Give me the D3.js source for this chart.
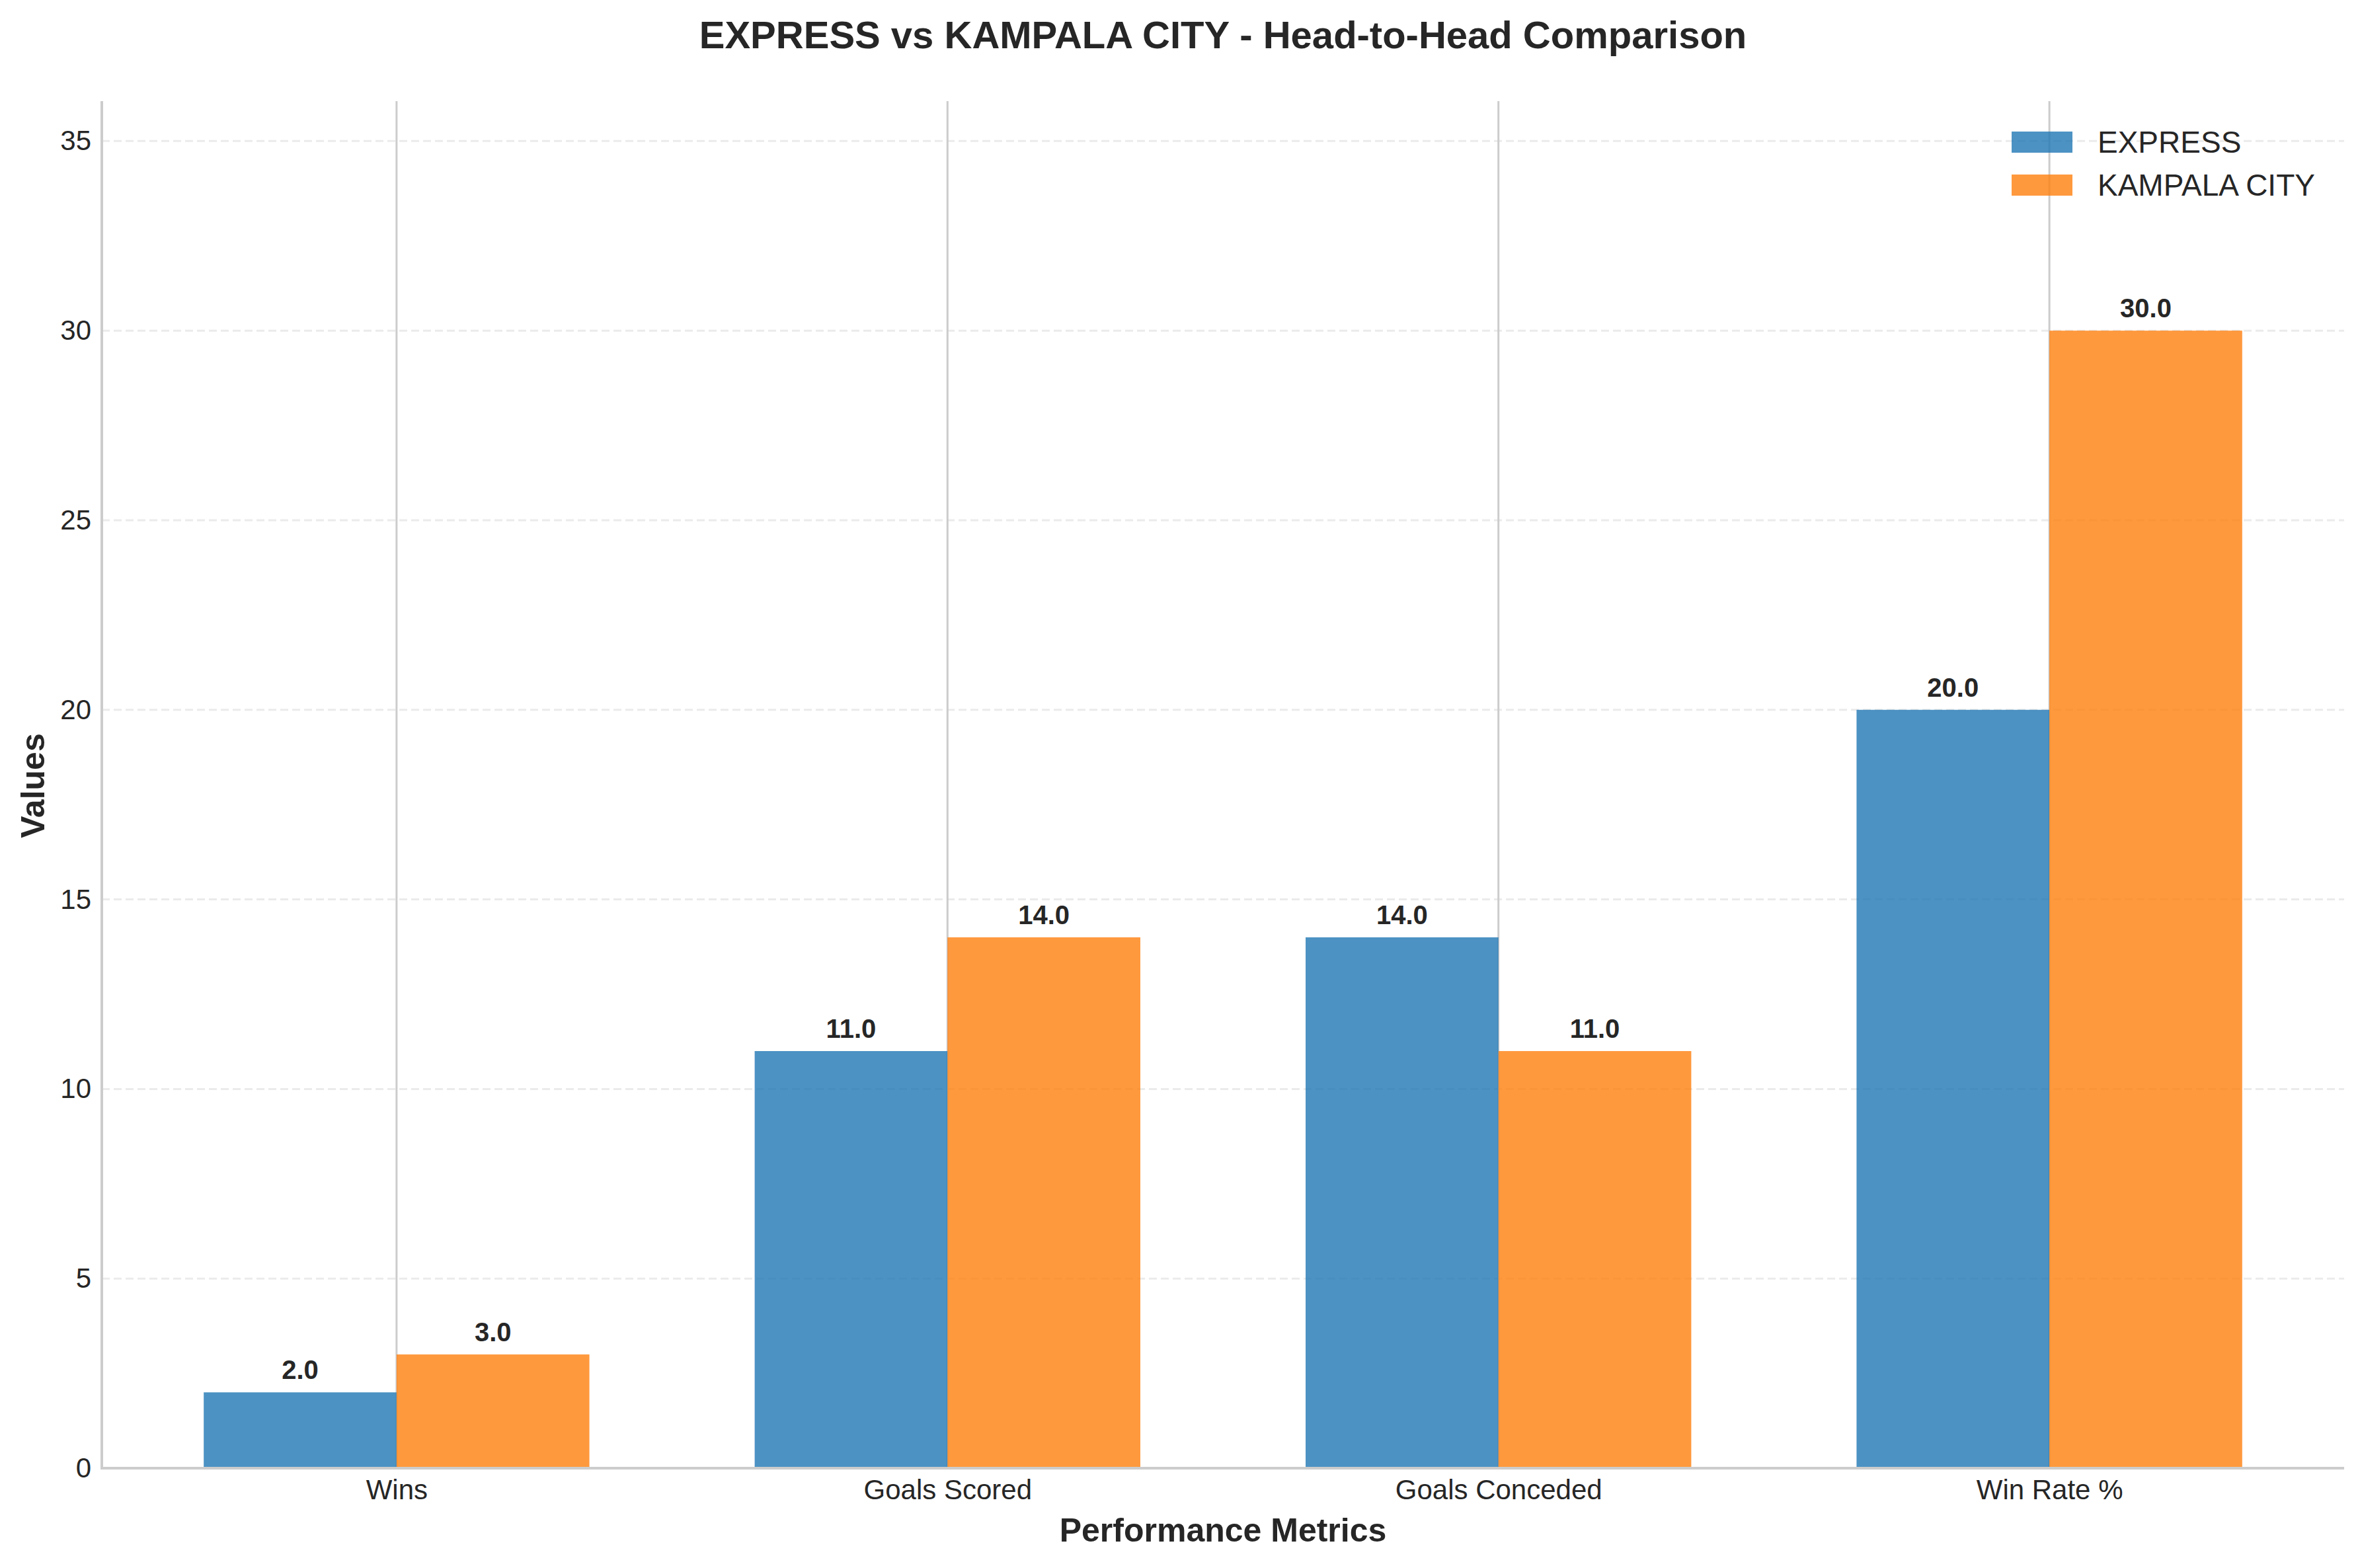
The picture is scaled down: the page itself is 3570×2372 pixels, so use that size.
<!DOCTYPE html>
<html>
<head>
<meta charset="utf-8">
<script src="https://cdn.jsdelivr.net/npm/d3@7"></script>
<style>
  body { margin: 0; background: #fff; }
  svg { display: block; font-family: "Liberation Sans", Arial, sans-serif; }
</style>
</head>
<body>
<div id="app"></div>
<script>
const categories = ["Wins", "Goals Scored", "Goals Conceded", "Win Rate %"];
const teams = ["EXPRESS", "KAMPALA CITY"];
const expressValues = [2, 11, 14, 20];
const kampalaValues = [3, 14, 11, 30];
const yTicks = [0, 5, 10, 15, 20, 25, 30, 35];
const colors = ["#1f77b4", "#ff7f0e"];

const width = 3570,
  height = 2372,
  margin = { top: 156, right: 24, bottom: 151, left: 154 };

const barWidth = 0.35;
const series = [expressValues, kampalaValues];

// numeric x like matplotlib: categories at 0..3, bars offset by half width
const xScale = d3
  .scaleLinear()
  .domain([-0.535, categories.length - 1 + 0.535])
  .range([margin.left, width - margin.right]);

const yScale = d3
  .scaleLinear()
  .domain([0, 36])
  .range([height - margin.bottom, margin.top]);

const svg = d3
  .select("#app")
  .append("svg")
  .attr("width", width)
  .attr("height", height)
  .attr("viewBox", [0, 0, width, height]);

// horizontal dashed grid
svg
  .append("g")
  .attr("class", "y-grid")
  .selectAll("line")
  .data(yTicks.filter((d) => d > 0))
  .join("line")
  .attr("x1", margin.left)
  .attr("x2", width - margin.right)
  .attr("y1", (d) => yScale(d))
  .attr("y2", (d) => yScale(d))
  .attr("stroke", "#ebebeb")
  .attr("stroke-width", 3)
  .attr("stroke-dasharray", "12,6");

// vertical solid grid at category centers
svg
  .append("g")
  .attr("class", "x-grid")
  .selectAll("line")
  .data(categories)
  .join("line")
  .attr("x1", (d, i) => xScale(i))
  .attr("x2", (d, i) => xScale(i))
  .attr("y1", margin.top - 3)
  .attr("y2", height - margin.bottom)
  .attr("stroke", "#cccccc")
  .attr("stroke-width", 3);

// bars
const bars = svg.append("g").attr("class", "bars");
series.forEach((vals, s) => {
  const offset = s === 0 ? -barWidth / 2 : barWidth / 2;
  const g = bars.append("g").attr("fill", colors[s]).attr("fill-opacity", 0.8);
  g.selectAll("rect")
    .data(vals)
    .join("rect")
    .attr("x", (d, i) => xScale(i + offset - barWidth / 2))
    .attr("width", xScale(barWidth) - xScale(0))
    .attr("y", (d) => yScale(d))
    .attr("height", (d) => yScale(0) - yScale(d));

  // value labels
  svg
    .append("g")
    .selectAll("text")
    .data(vals)
    .join("text")
    .attr("x", (d, i) => xScale(i + offset))
    .attr("y", (d) => yScale(d) - 20)
    .attr("text-anchor", "middle")
    .attr("font-size", 40)
    .attr("font-weight", "bold")
    .attr("fill", "#262626")
    .text((d) => d.toFixed(1));
});

// y axis
const yAxis = (g) =>
  g
    .attr("transform", `translate(${margin.left},0)`)
    .call(d3.axisLeft(yScale).tickValues(yTicks).tickSize(0).tickPadding(16))
    .call((g) => g.select(".domain").remove())
    .call((g) =>
      g.selectAll("text").attr("font-size", 42).attr("fill", "#262626").attr("font-family", null)
    );
svg.append("g").call(yAxis);

// x axis
const xAxis = (g) =>
  g
    .attr("transform", `translate(0,${height - margin.bottom})`)
    .call(
      d3
        .axisBottom(xScale)
        .tickValues(d3.range(categories.length))
        .tickFormat((i) => categories[i])
        .tickSize(0)
        .tickPadding(17)
    )
    .call((g) => g.select(".domain").remove())
    .call((g) =>
      g.selectAll("text").attr("font-size", 42).attr("fill", "#262626").attr("font-family", null)
    );
svg.append("g").call(xAxis);

// spines (left + bottom)
svg
  .append("line")
  .attr("x1", margin.left)
  .attr("x2", margin.left)
  .attr("y1", margin.top - 3)
  .attr("y2", height - margin.bottom + 2)
  .attr("stroke", "#cccccc")
  .attr("stroke-width", 4);
svg
  .append("line")
  .attr("x1", margin.left)
  .attr("x2", width - margin.right)
  .attr("y1", height - margin.bottom)
  .attr("y2", height - margin.bottom)
  .attr("stroke", "#cccccc")
  .attr("stroke-width", 4);

// title
svg
  .append("text")
  .attr("x", (margin.left + width - margin.right) / 2)
  .attr("y", 73)
  .attr("text-anchor", "middle")
  .attr("font-size", 58)
  .attr("font-weight", "bold")
  .attr("fill", "#262626")
  .text("EXPRESS vs KAMPALA CITY - Head-to-Head Comparison");

// axis labels
svg
  .append("text")
  .attr("x", (margin.left + width - margin.right) / 2)
  .attr("y", 2332)
  .attr("text-anchor", "middle")
  .attr("font-size", 50)
  .attr("font-weight", "bold")
  .attr("fill", "#262626")
  .text("Performance Metrics");

svg
  .append("text")
  .attr("transform", `translate(67,${(margin.top + height - margin.bottom) / 2}) rotate(-90)`)
  .attr("text-anchor", "middle")
  .attr("font-size", 50)
  .attr("font-weight", "bold")
  .attr("fill", "#262626")
  .text("Values");

// legend
const legend = svg.append("g").attr("class", "legend");
teams.forEach((t, i) => {
  const y0 = 199 + i * 65;
  legend
    .append("rect")
    .attr("x", 3043)
    .attr("y", y0)
    .attr("width", 92)
    .attr("height", 32)
    .attr("fill", colors[i])
    .attr("fill-opacity", 0.8);
  legend
    .append("text")
    .attr("x", 3173)
    .attr("y", y0 + 32)
    .attr("font-size", 46)
    .attr("fill", "#262626")
    .text(t);
});
</script>
</body>
</html>
